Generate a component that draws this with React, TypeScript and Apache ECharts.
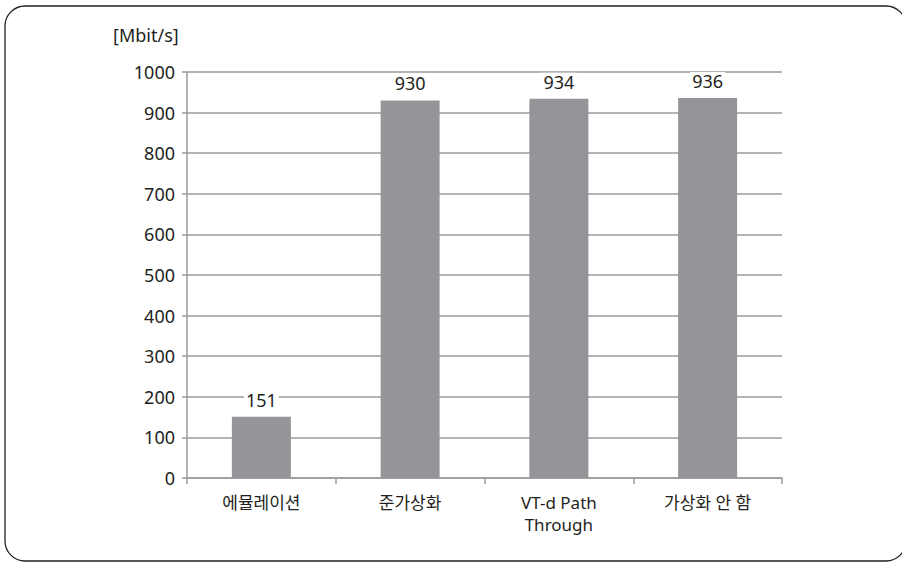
import React, { useEffect, useRef } from "react";
import * as echarts from "echarts";

const categories = ["에뮬레이션", "준가상화", "VT-d Path\nThrough", "가상화 안 함"];
const throughput = [151, 930, 934, 936];
const unitLabel = "[Mbit/s]";

const FONT = "'Noto Sans', 'Noto Sans CJK KR', sans-serif";
const TEXT = "#231f20";
const GRID = "#9b9b9d";
const BAR = "#939598";

export default function App() {
  const ref = useRef<HTMLDivElement>(null);

  useEffect(() => {
    if (!ref.current) return;
    const chart = echarts.init(ref.current, undefined, { renderer: "svg" });
    chart.setOption({
      animation: false,
      backgroundColor: "#ffffff",
      textStyle: { fontFamily: FONT },
      grid: { left: 187, right: 120, top: 72, bottom: 84, containLabel: false },
      graphic: [
        {
          type: "rect",
          shape: { x: 5, y: 6, width: 901, height: 555, r: 20 },
          style: { fill: "none", stroke: TEXT, lineWidth: 1.3 },
          silent: true,
        },
        {
          type: "text",
          left: 113,
          top: 26,
          style: { text: unitLabel, fontSize: 18, fontFamily: FONT, fill: TEXT },
        },
      ],
      xAxis: {
        type: "category",
        data: categories,
        axisLine: { lineStyle: { color: GRID, width: 1.5 } },
        axisTick: { show: true, length: 6, alignWithLabel: false, lineStyle: { color: GRID, width: 1.5 } },
        axisLabel: {
          color: TEXT,
          fontSize: 17,
          fontFamily: FONT,
          margin: 13,
          lineHeight: 22,
          interval: 0,
        },
      },
      yAxis: {
        type: "value",
        min: 0,
        max: 1000,
        interval: 100,
        axisLine: { show: true, lineStyle: { color: GRID, width: 1.5 } },
        axisTick: { show: true, length: 5, lineStyle: { color: GRID, width: 1.5 } },
        splitLine: { show: true, lineStyle: { color: GRID, width: 1.5 } },
        axisLabel: {
          color: TEXT,
          fontSize: 18,
          fontFamily: FONT,
          margin: 12,
          formatter: (v: number) => String(v),
        },
      },
      series: [
        {
          type: "bar",
          data: throughput,
          barWidth: 59,
          itemStyle: { color: BAR },
          label: {
            show: true,
            position: "top",
            distance: 8,
            color: TEXT,
            fontSize: 18,
            fontFamily: FONT,
            backgroundColor: "#ffffff",
            padding: [0, 2],
          },
        },
      ],
    });
    return () => chart.dispose();
  }, []);

  return (
    <div
      ref={ref}
      style={{ position: "fixed", left: 0, top: 0, width: 902, height: 562 }}
    />
  );
}
